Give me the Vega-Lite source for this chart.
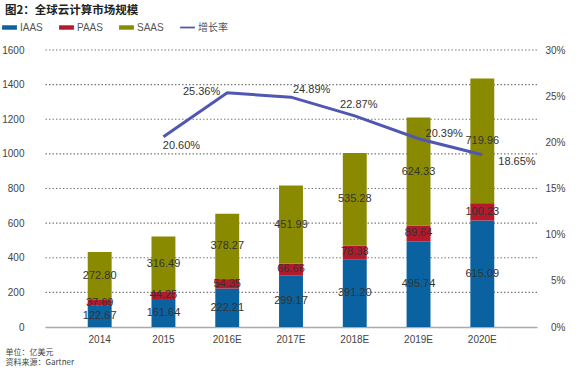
{
  "$schema": "https://vega.github.io/schema/vega-lite/v6.json",
  "width": 492,
  "height": 277,
  "autosize": {"type": "none"},
  "padding": {"left": 45, "top": 50, "right": 43, "bottom": 46},
  "background": "white",
  "config": {
    "font": "Liberation Sans, Noto Sans CJK SC",
    "view": {"stroke": null},
    "axisY": {
      "title": null,
      "labelOverlap": false,
      "labelFontSize": 10,
      "labelColor": "#444",
      "ticks": false,
      "domain": false,
      "grid": false
    },
    "axisX": {
      "titleFont": "Noto Sans CJK SC",
      "titleFontSize": 8,
      "titleFontWeight": "normal",
      "titleColor": "#444",
      "titleAnchor": "start",
      "titleAlign": "left",
      "titleBaseline": "top",
      "titleX": -40,
      "titleY": 21,
      "titleLineHeight": 10,
      "labelAngle": 0,
      "labelFontSize": 10,
      "labelColor": "#444",
      "labelPadding": 7,
      "ticks": false,
      "domainColor": "#aaa",
      "domainWidth": 1.5,
      "grid": false
    }
  },
  "title": {
    "text": "图2：全球云计算市场规模",
    "anchor": "start",
    "frame": "group",
    "dx": -40,
    "offset": 4,
    "fontSize": 11.5,
    "fontWeight": "bold",
    "color": "#222",
    "font": "Noto Sans CJK SC"
  },
  "datasets": {
    "bars": [
      {"year": "2014", "type": "IAAS", "v": 122.67},
      {"year": "2014", "type": "PAAS", "v": 37.69},
      {"year": "2014", "type": "SAAS", "v": 272.80},
      {"year": "2015", "type": "IAAS", "v": 161.64},
      {"year": "2015", "type": "PAAS", "v": 44.25},
      {"year": "2015", "type": "SAAS", "v": 316.49},
      {"year": "2016E", "type": "IAAS", "v": 222.21},
      {"year": "2016E", "type": "PAAS", "v": 54.35},
      {"year": "2016E", "type": "SAAS", "v": 378.27},
      {"year": "2017E", "type": "IAAS", "v": 299.17},
      {"year": "2017E", "type": "PAAS", "v": 66.66},
      {"year": "2017E", "type": "SAAS", "v": 451.99},
      {"year": "2018E", "type": "IAAS", "v": 391.20},
      {"year": "2018E", "type": "PAAS", "v": 78.38},
      {"year": "2018E", "type": "SAAS", "v": 535.28},
      {"year": "2019E", "type": "IAAS", "v": 495.74},
      {"year": "2019E", "type": "PAAS", "v": 89.64},
      {"year": "2019E", "type": "SAAS", "v": 624.33},
      {"year": "2020E", "type": "IAAS", "v": 615.09},
      {"year": "2020E", "type": "PAAS", "v": 100.23},
      {"year": "2020E", "type": "SAAS", "v": 719.96}
    ],
    "growth": [
      {"year": "2015", "g": 0.2060},
      {"year": "2016E", "g": 0.2536},
      {"year": "2017E", "g": 0.2489},
      {"year": "2018E", "g": 0.2287},
      {"year": "2019E", "g": 0.2039},
      {"year": "2020E", "g": 0.1865}
    ],
    "gridlines": [
      {"gv": 200}, {"gv": 400}, {"gv": 600}, {"gv": 800},
      {"gv": 1000}, {"gv": 1200}, {"gv": 1400}, {"gv": 1600}
    ]
  },
  "layer": [
    {
      "data": {"name": "gridlines"},
      "mark": {"type": "rule", "color": "#7a7a7a", "strokeWidth": 1.2, "strokeDash": [1.5, 2]},
      "encoding": {
        "y": {
          "field": "gv",
          "type": "quantitative",
          "scale": {"domain": [0, 1600]},
          "axis": null
        }
      }
    },
    {
      "data": {"name": "bars"},
      "encoding": {
        "x": {
          "field": "year",
          "type": "nominal",
          "sort": null,
          "scale": {"domain": ["2014", "2015", "2016E", "2017E", "2018E", "2019E", "2020E"], "paddingInner": 0.625, "paddingOuter": 0.67},
          "axis": {"title": ["单位：亿美元", "资料来源：Gartner"]}
        }
      },
      "layer": [
        {
          "mark": {"type": "bar"},
          "encoding": {
            "y": {
              "field": "v",
              "type": "quantitative",
              "stack": "zero",
              "scale": {"domain": [0, 1600]},
              "axis": {"values": [0, 200, 400, 600, 800, 1000, 1200, 1400, 1600], "format": "d", "labelPadding": 21}
            },
            "color": {
              "field": "type",
              "type": "nominal",
              "scale": {
                "domain": ["IAAS", "PAAS", "SAAS", "增长率"],
                "range": ["#0b62a0", "#b31a2c", "#8a8a00", "#5057b2"]
              },
              "legend": {
                "title": null,
                "orient": "none",
                "legendX": -43,
                "legendY": -30,
                "direction": "horizontal",
                "gridAlign": "none",
                "labelFontSize": 10,
                "labelColor": "#555",
                "labelFont": "Liberation Sans, Noto Sans CJK SC",
                "symbolSize": 220,
                "symbolStrokeWidth": 0,
                "columnPadding": 16,
                "labelOffset": 3,
                "encode": {
                  "symbols": {
                    "update": {
                      "shape": {"signal": "datum.value === '增长率' ? 'M-1,-0.12H1V0.12H-1Z' : 'M-1,-0.3H1V0.3H-1Z'"},
                      "strokeWidth": {"value": 0}
                    }
                  }
                }
              }
            },
            "order": {"field": "type"}
          }
        },
        {
          "mark": {"type": "text", "fontSize": 11, "color": "#333"},
          "encoding": {
            "y": {
              "field": "v",
              "type": "quantitative",
              "stack": "zero",
              "bandPosition": 0.5,
              "axis": {"values": [0, 200, 400, 600, 800, 1000, 1200, 1400, 1600], "format": "d", "labelPadding": 21}
            },
            "text": {"field": "v", "type": "quantitative", "format": ".2f"},
            "detail": {"field": "type"},
            "order": {"field": "type"}
          }
        }
      ]
    },
    {
      "data": {"name": "growth"},
      "encoding": {
        "x": {
          "field": "year",
          "type": "nominal",
          "sort": null,
          "scale": {"domain": ["2014", "2015", "2016E", "2017E", "2018E", "2019E", "2020E"], "paddingInner": 0.625, "paddingOuter": 0.67},
          "axis": {"title": ["单位：亿美元", "资料来源：Gartner"]}
        }
      },
      "layer": [
        {
          "mark": {"type": "line", "strokeWidth": 3},
          "encoding": {
            "y": {
              "field": "g",
              "type": "quantitative",
              "scale": {"domain": [0, 0.3]},
              "axis": {
                "orient": "right",
                "format": ".0%",
                "values": [0, 0.05, 0.1, 0.15, 0.2, 0.25, 0.3],
                "labelAlign": "right",
                "labelPadding": 28
              }
            },
            "color": {"datum": "增长率"}
          }
        },
        {
          "transform": [{"filter": "datum.year === '2015'"}],
          "mark": {"type": "text", "fontSize": 11, "color": "#333", "align": "center", "dx": 18, "dy": 9},
          "encoding": {"y": {"field": "g", "type": "quantitative"}, "text": {"field": "g", "type": "quantitative", "format": ".2%"}}
        },
        {
          "transform": [{"filter": "datum.year === '2016E'"}],
          "mark": {"type": "text", "fontSize": 11, "color": "#333", "align": "right", "dx": -7, "dy": -1},
          "encoding": {"y": {"field": "g", "type": "quantitative"}, "text": {"field": "g", "type": "quantitative", "format": ".2%"}}
        },
        {
          "transform": [{"filter": "datum.year === '2017E'"}],
          "mark": {"type": "text", "fontSize": 11, "color": "#333", "align": "left", "dx": 2, "dy": -7},
          "encoding": {"y": {"field": "g", "type": "quantitative"}, "text": {"field": "g", "type": "quantitative", "format": ".2%"}}
        },
        {
          "transform": [{"filter": "datum.year === '2018E'"}],
          "mark": {"type": "text", "fontSize": 11, "color": "#333", "align": "center", "dx": 4, "dy": -11},
          "encoding": {"y": {"field": "g", "type": "quantitative"}, "text": {"field": "g", "type": "quantitative", "format": ".2%"}}
        },
        {
          "transform": [{"filter": "datum.year === '2019E'"}],
          "mark": {"type": "text", "fontSize": 11, "color": "#333", "align": "left", "dx": 7, "dy": -5},
          "encoding": {"y": {"field": "g", "type": "quantitative"}, "text": {"field": "g", "type": "quantitative", "format": ".2%"}}
        },
        {
          "transform": [{"filter": "datum.year === '2020E'"}],
          "mark": {"type": "text", "fontSize": 11, "color": "#333", "align": "left", "dx": 16, "dy": 7},
          "encoding": {"y": {"field": "g", "type": "quantitative"}, "text": {"field": "g", "type": "quantitative", "format": ".2%"}}
        }
      ]
    }
  ],
  "resolve": {"scale": {"y": "independent"}}
}
